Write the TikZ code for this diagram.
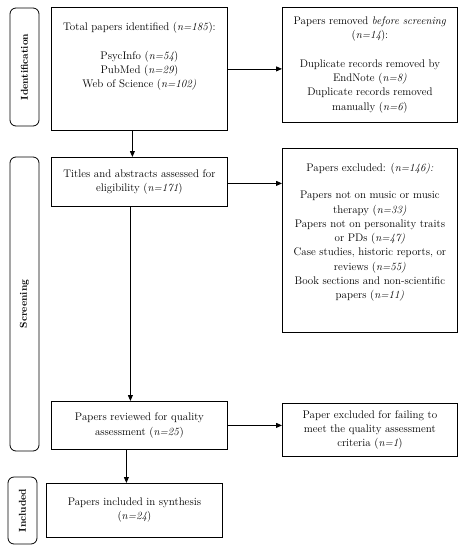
\documentclass[tikz,border=0pt]{standalone}
\usetikzlibrary{arrows.meta,calc}
\begin{document}
\begin{tikzpicture}[x=1pt,y=-1pt,
  box/.style={draw, line width=0.8pt, inner sep=2pt, align=center,
    font=\fontsize{11}{14.3}\selectfont, anchor=north west},
  txt/.style={align=center, font=\fontsize{11}{14.3}\selectfont, inner sep=0pt},
  side/.style={draw, line width=0.8pt, rounded corners=6pt, rotate=90,
    font=\bfseries\fontsize{10}{11}\selectfont, inner sep=0pt},
  arr/.style={-{Triangle[length=6pt,width=5pt]}, line width=0.8pt}]
\useasboundingbox (0,0) rectangle (464,550);
% side labels
\node[side, minimum width=118pt, minimum height=29pt] (sid) at (24.5,67) {Identification};
\node[side, minimum width=294pt, minimum height=29pt] (ssc) at (24.5,304) {Screening};
\node[side, minimum width=67pt, minimum height=29pt] (sin) at (22.5,510.5) {Included};
% main boxes
\node[box, minimum width=176pt, minimum height=123pt] (b1) at (51,7) {};
\node[txt, anchor=north] (t1) at ([yshift=-15pt]b1.north) {Total papers identified (\textit{n=185}):\\[14.3pt]
PsycInfo (\textit{n=54})\\ PubMed (\textit{n=29})\\ Web of Science (\textit{n=102)}};
\node[box, minimum width=175pt, minimum height=115pt] (rem) at (282,7) {Papers removed \textit{before screening}\\(\textit{n=14}):\\[14.3pt]
Duplicate records removed by\\ EndNote (\textit{n=8)}\\ Duplicate records removed\\ manually (\textit{n=6})};
\node[box, minimum width=176pt, minimum height=49pt] (b2) at (51,157) {Titles and abstracts assessed for\\ eligibility (\textit{n=171})};
\node[box, minimum width=175pt, minimum height=184pt] (exc) at (282,148) {Papers excluded: (\textit{n=146):}\\[12.5pt]
Papers not on music or music\\ therapy (\textit{n=33)}\\ Papers not on personality traits\\ or PDs (\textit{n=47)}\\
Case studies, historic reports, or\\ reviews (\textit{n=55)}\\ Book sections and non-scientific\\ papers (\textit{n=11)}\\[4pt]};
\node[box, minimum width=176pt, minimum height=48pt] (b3) at (51,401) {Papers reviewed for quality\\ assessment (\textit{n=25})};
\node[box, minimum width=175pt, minimum height=53pt] (exc2) at (282,403) {Paper excluded for failing to\\ meet the quality assessment\\ criteria (\textit{n=1})};
\node[box, minimum width=176pt, minimum height=54pt] (b4) at (46,483) {Papers included in synthesis\\ (\textit{n=24})};
% connectors
\draw[arr] (b1.east) -- (b1.east -| rem.west);
\draw[arr] ([xshift=-7pt]b1.south) -- ([xshift=-7pt]b1.south |- b2.north);
\draw[arr] ([yshift=-1.5pt]b2.east) -- ([yshift=-1.5pt]b2.east -| exc.west);
\draw[arr] ([xshift=-9pt]b2.south) -- ([xshift=-9pt]b2.south |- b3.north);
\draw[arr] (b3.east) -- (b3.east -| exc2.west);
\draw[arr] ([xshift=-13pt]b3.south) -- ([xshift=-13pt]b3.south |- b4.north);
\end{tikzpicture}
\end{document}
